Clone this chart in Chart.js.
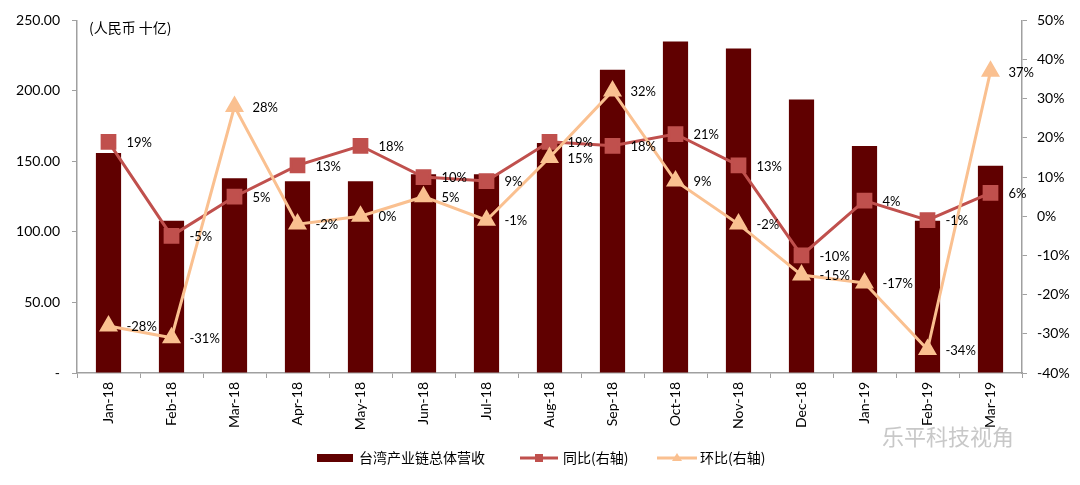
<!DOCTYPE html>
<html>
<head>
<meta charset="utf-8">
<script src="https://cdn.jsdelivr.net/npm/chart.js@4/dist/chart.umd.min.js"></script>
<style>
  body { margin: 0; background: #fff; }
  #wrap { width: 1080px; height: 485px; position: relative; }
</style>
</head>
<body>
<div id="wrap"><canvas id="canvas"></canvas></div>
<script>
// data
var months = ["Jan-18", "Feb-18", "Mar-18", "Apr-18", "May-18", "Jun-18", "Jul-18", "Aug-18",
              "Sep-18", "Oct-18", "Nov-18", "Dec-18", "Jan-19", "Feb-19", "Mar-19"];
var revenue = [156, 108, 138, 136, 136, 141, 141, 163, 215, 235, 230, 194, 161, 108, 147];
var yoy = [19, -5, 5, 13, 18, 10, 9, 19, 18, 21, 13, -10, 4, -1, 6];
var mom = [-28, -31, 28, -2, 0, 5, -1, 15, 32, 9, -2, -15, -17, -34, 37];
var leftTicks = [0, 50, 100, 150, 200, 250];
var rightTicks = [-40, -30, -20, -10, 0, 10, 20, 30, 40, 50];

var names = ["台湾产业链总体营收", "同比(右轴)", "环比(右轴)"];
var colors = { bar: '#600000', yoy: '#C0504D', mom: '#FAC090', axis: '#A0A0A0' };
var numFont = 'Lato, "Liberation Sans", sans-serif';
var cjkFont = '"Noto Sans CJK SC", sans-serif';

// point labels to the right of each marker, plus unit note, legend and watermark
var extras = {
    id: 'extras',
    afterDatasetsDraw: function (chart) {
        var ctx = chart.ctx;
        ctx.save();
        ctx.fillStyle = '#000';
        ctx.font = '13px ' + numFont;
        ctx.textAlign = 'left';
        ctx.textBaseline = 'middle';
        [0, 1].forEach(function (di) {
            var meta = chart.getDatasetMeta(di);
            var vals = chart.data.datasets[di].data;
            meta.data.forEach(function (pt, i) {
                ctx.fillText(vals[i] + '%', pt.x + 18, pt.y + 1);
            });
        });

        ctx.font = '14px ' + cjkFont;
        ctx.fillText('(人民币 十亿)', chart.chartArea.left + 12, chart.chartArea.top + 7);

        // legend
        var ly = 458;
        ctx.fillStyle = colors.bar;
        ctx.fillRect(317, ly - 4, 36, 8);
        ctx.fillStyle = '#000';
        ctx.font = '14px ' + cjkFont;
        ctx.fillText(names[0], 359, ly);

        ctx.strokeStyle = colors.yoy;
        ctx.lineWidth = 3;
        ctx.beginPath(); ctx.moveTo(520, ly); ctx.lineTo(558, ly); ctx.stroke();
        ctx.fillStyle = colors.yoy;
        ctx.fillRect(535, ly - 4, 8, 8);
        ctx.fillStyle = '#000';
        ctx.fillText(names[1], 563, ly);

        ctx.strokeStyle = colors.mom;
        ctx.beginPath(); ctx.moveTo(657, ly); ctx.lineTo(697, ly); ctx.stroke();
        ctx.fillStyle = colors.mom;
        ctx.beginPath(); ctx.moveTo(677, ly - 5); ctx.lineTo(682, ly + 3); ctx.lineTo(672, ly + 3); ctx.closePath(); ctx.fill();
        ctx.fillStyle = '#000';
        ctx.fillText(names[2], 700, ly);

        ctx.fillStyle = '#C8C8C8';
        ctx.font = '22px ' + cjkFont;
        ctx.fillText('乐平科技视角', 882, 437);
        ctx.restore();
    }
};

var config = {
    type: 'bar',
    data: {
        labels: months,
        datasets: [{
            type: 'line',
            label: names[1],
            data: yoy,
            yAxisID: 'y1',
            borderColor: colors.yoy,
            backgroundColor: colors.yoy,
            borderWidth: 3,
            pointStyle: 'rect',
            pointRadius: 9,
            pointHoverRadius: 9,
            tension: 0,
            order: 1
        }, {
            type: 'line',
            label: names[2],
            data: mom,
            yAxisID: 'y1',
            borderColor: colors.mom,
            backgroundColor: colors.mom,
            borderWidth: 3,
            pointStyle: 'triangle',
            pointRadius: 8,
            pointHoverRadius: 8,
            tension: 0,
            order: 0
        }, {
            label: names[0],
            data: revenue,
            yAxisID: 'y',
            backgroundColor: colors.bar,
            barPercentage: 0.4,
            categoryPercentage: 1,
            order: 2
        }]
    },
    options: {
        responsive: true,
        maintainAspectRatio: false,
        animation: false,
        layout: { padding: { top: 20, left: 0, right: 0, bottom: 0 } },
        plugins: { legend: { display: false }, tooltip: { enabled: false } },
        scales: {
            x: {
                offset: true,
                grid: { display: true, drawOnChartArea: false, offset: true, color: colors.axis, tickLength: 5 },
                border: { color: colors.axis, width: 1.5 },
                ticks: { color: '#000', font: { family: numFont, size: 14 }, maxRotation: 90, minRotation: 90, padding: 4 },
                afterFit: function (s) { s.height = 112; }
            },
            y: {
                position: 'left',
                min: 0, max: 250,
                afterBuildTicks: function (s) { s.ticks = leftTicks.map(function (v) { return { value: v }; }); },
                grid: { drawOnChartArea: false, color: colors.axis, tickLength: 5 },
                border: { color: colors.axis, width: 1.5 },
                ticks: {
                    color: '#000', padding: 12, font: { family: numFont, size: 14 },
                    callback: function (v) { return v === 0 ? '-' : v.toFixed(2); }
                },
                afterFit: function (s) { s.width = 77; }
            },
            y1: {
                position: 'right',
                min: -40, max: 50,
                afterBuildTicks: function (s) { s.ticks = rightTicks.map(function (v) { return { value: v }; }); },
                grid: { drawOnChartArea: false, color: colors.axis, tickLength: 5 },
                border: { color: colors.axis, width: 1.5 },
                ticks: {
                    color: '#000', padding: 10, font: { family: numFont, size: 14 },
                    callback: function (v) { return v + '%'; }
                },
                afterFit: function (s) { s.width = 58; }
            }
        }
    },
    plugins: [extras]
};

window.myChart = new Chart(document.getElementById("canvas"), config);
</script>
</body>
</html>
